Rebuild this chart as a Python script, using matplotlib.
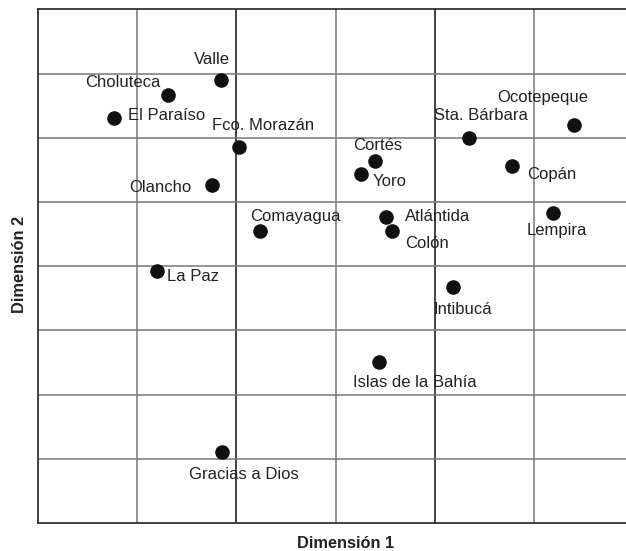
import matplotlib
matplotlib.use("Agg")
import matplotlib.pyplot as plt

plt.rcParams['font.family'] = ['Liberation Sans Narrow', 'Liberation Sans', 'DejaVu Sans']

# departamentos and their coordinates on the two dimensions (grid units)
names = ["Valle", "Choluteca", "El Paraíso", "Fco. Morazán", "Olancho", "Comayagua",
         "La Paz", "Gracias a Dios", "Cortés", "Yoro", "Sta. Bárbara", "Ocotepeque",
         "Copán", "Atlántida", "Colón", "Lempira", "Intibucá", "Islas de la Bahía"]
dim1 = [1.845, 1.31, 0.766, 2.03, 1.754, 2.24,
        1.20, 1.858, 3.40, 3.256, 4.35, 5.40,
        4.78, 3.505, 3.57, 5.19, 4.18, 3.44]
dim2 = [6.90, 6.67, 6.31, 5.86, 5.26, 4.55,
        3.92, 1.11, 5.63, 5.43, 6.00, 6.20,
        5.56, 4.76, 4.55, 4.82, 3.68, 2.51]

# label placement: pixel offset from the point and horizontal alignment
label_pos = {
    "Valle": (-9, 20, 'center'),
    "Choluteca": (-7, 12, 'right'),
    "El Paraíso": (14, 2, 'left'),
    "Fco. Morazán": (24, 21, 'center'),
    "Olancho": (-20, -2, 'right'),
    "Comayagua": (-10, 14, 'left'),
    "La Paz": (10, -5, 'left'),
    "Gracias a Dios": (22, -23, 'center'),
    "Cortés": (3, 16, 'center'),
    "Yoro": (12, -7, 'left'),
    "Sta. Bárbara": (12, 22, 'center'),
    "Ocotepeque": (-31, 27, 'center'),
    "Copán": (15, -9, 'left'),
    "Atlántida": (19, 1, 'left'),
    "Colón": (13, -13, 'left'),
    "Lempira": (4, -17, 'center'),
    "Intibucá": (10, -23, 'center'),
    "Islas de la Bahía": (36, -21, 'center'),
}

fig = plt.figure(figsize=(6.26, 5.51), dpi=100)
W, H = 626, 551
ax = fig.add_axes([38 / W, (H - 523) / H, (633 - 38) / W, (523 - 9.3) / H])
ax.set_xlim(0, 6)
ax.set_ylim(0, 8)

# grid
for gx in range(1, 6):
    col = '#111111' if gx in (2, 4) else '#777777'
    ax.axvline(gx, color=col, lw=1.1, zorder=1)
for gy in range(1, 8):
    ax.axhline(gy, color='#777777', lw=1.1, zorder=1)

for side in ['left', 'bottom', 'top']:
    ax.spines[side].set_color('#222222')
    ax.spines[side].set_linewidth(1.2)
ax.spines['right'].set_visible(False)
ax.set_xticks([])
ax.set_yticks([])

ax.scatter(dim1, dim2, s=90, color='#111111', zorder=3, clip_on=False)

for name, x, y in zip(names, dim1, dim2):
    dx, dy, ha = label_pos[name]
    ax.annotate(name, (x, y), xytext=(dx, dy), textcoords='offset pixels',
                ha=ha, va='center', fontsize=12, color='#222222', zorder=4)

fig.text(346 / W, 1 - 543 / H, 'Dimensión 1', ha='center', va='center',
         fontsize=11.8, fontweight='bold', color='#222222')
fig.text(20 / W, 1 - 264 / H, 'Dimensión 2', ha='center', va='center',
         rotation=90, fontsize=11.8, fontweight='bold', color='#222222')

fig.savefig('out.png', dpi=100)
